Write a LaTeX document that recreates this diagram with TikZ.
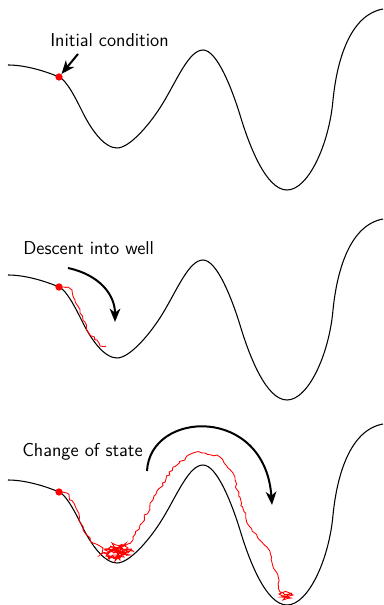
\documentclass[tikz,border=0pt]{standalone}
\usepackage{xcolor}
\usepackage{tikz}
\usetikzlibrary{arrows.meta, decorations.pathmorphing}
\newcommand{\wellcurve}{(8,65) .. controls (25,65) and (45,71) .. (59,77)
  .. controls (67,80.5) and (76,99) .. (83,113)
  .. controls (91,129) and (104,148) .. (117,148)
  .. controls (130,148) and (151,123) .. (163,103)
  .. controls (177,80) and (189,50) .. (203,50)
  .. controls (217,50) and (232,89) .. (240,115)
  .. controls (249,145) and (266,190) .. (287,190)
  .. controls (308,190) and (329,145) .. (333,100)
  .. controls (337,60) and (350,15) .. (383,9)}

\begin{document}
\begin{tikzpicture}[
    x=0.75pt, y=-0.75pt,
    landscape/.style={line width=0.8pt},
    walk/.style={red, line width=0.65pt, decorate,
                 decoration={random steps, segment length=2.5pt, amplitude=1.2pt}},
    dot/.style={circle, fill=red, inner sep=0pt, minimum size=5.5pt},
    bigarrow/.style={-{Stealth[length=10pt, width=8pt, inset=3pt]}, line width=1.5pt},
    titletext/.style={font=\sffamily\fontsize{14}{16}\selectfont, inner sep=0pt, anchor=base west},
]
\pgfmathsetseed{11}
\useasboundingbox (0,0) rectangle (384,605);

\begin{scope}
  \draw[landscape] \wellcurve;
  \node[dot] (start1) at (59,77) {};
  \node[titletext] (lab1) at (50,47) {Initial condition};
  \coordinate (tail1) at (78,54);
  \draw[bigarrow] (tail1) -- (start1);
\end{scope}

\begin{scope}[shift={(0,210)}]
  \draw[landscape] \wellcurve;
  \draw[walk] (59,77) -- (68,77) -- (72,80) -- (75,90) -- (80,103) -- (88,122) -- (97,130) -- (100,136) -- (106,136);
  \node[dot] (start2) at (59,77) {};
  \node[titletext] (lab2) at (23,45) {Descent into well};
  \coordinate (from2) at (68,58);
  \coordinate (to2) at (115,112);
  \draw[bigarrow] (from2) .. controls (100,65) and (115,85) .. (to2);
\end{scope}

\begin{scope}[shift={(0,415)}]
  \draw[landscape] \wellcurve;
  \draw[walk] (59,77) -- (67,78) -- (77,95) -- (83,115) -- (93,128) -- (103,133)
    -- (100,140) -- (125,130) -- (105,135) -- (130,140) -- (108,143) -- (128,133)
    -- (112,128) -- (120,145) -- (102,138) -- (134,137) -- (110,131) -- (124,142)
    -- (106,141) -- (126,128) -- (115,146) -- (131,134) -- (104,134) -- (122,137)
    -- (118,134) -- (133,125) -- (153,85) -- (173,52) -- (193,38) -- (205,38)
    -- (220,42) -- (233,58) -- (247,108) -- (267,132) -- (277,158) -- (280,177)
    -- (292,178) -- (279,179) -- (293,180) -- (281,182) -- (291,183) -- (283,185) -- (288,180);
  \node[dot] (start3) at (59,77) {};
  \node[titletext] (lab3) at (22,41) {Change of state};
  \coordinate (from3) at (147,56);
  \coordinate (to3) at (272,90);
  \draw[bigarrow] (from3) .. controls (150,-5) and (265,-10) .. (to3);
\end{scope}

\end{tikzpicture}
\end{document}
